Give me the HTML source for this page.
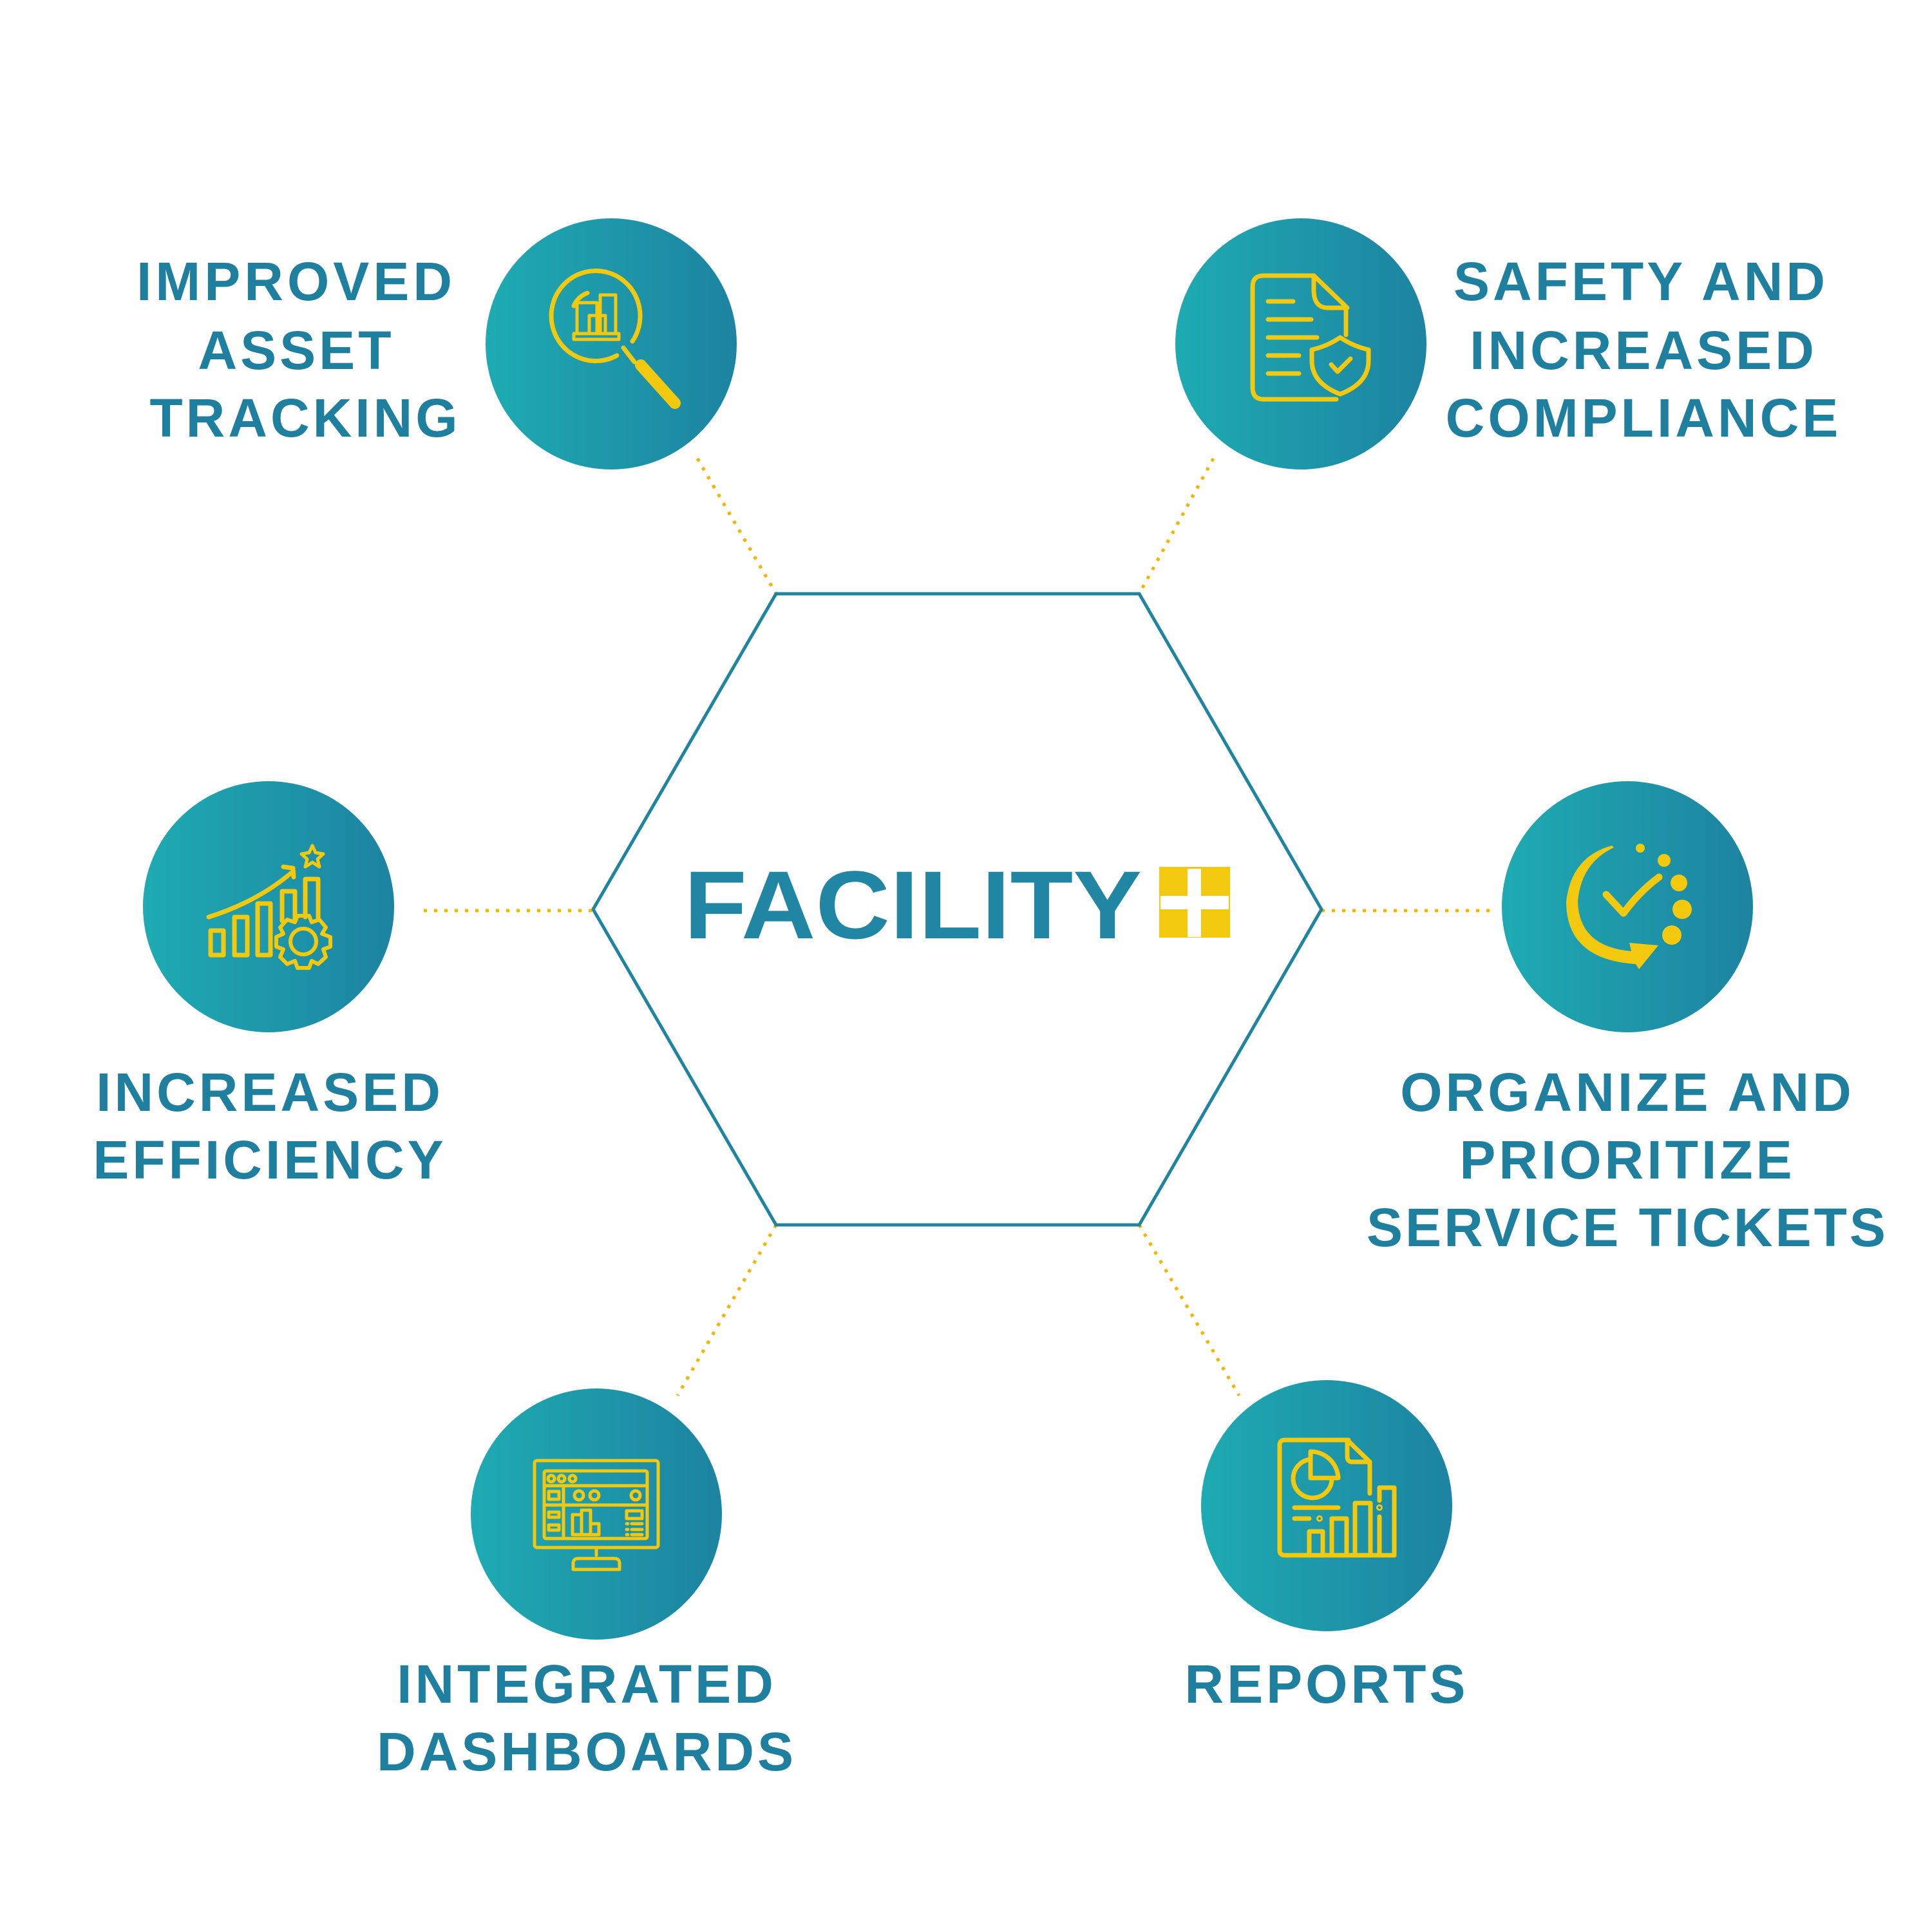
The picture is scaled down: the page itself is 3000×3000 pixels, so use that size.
<!DOCTYPE html>
<html><head><meta charset="utf-8"><style>
html,body{margin:0;padding:0;background:#fff;}
svg{display:block;}
text{font-family:"Liberation Sans",sans-serif;font-weight:bold;fill:#1f7f9e;}
</style></head><body>
<svg width="3000" height="3000" viewBox="0 0 3000 3000" xmlns="http://www.w3.org/2000/svg">
<defs>
<linearGradient id="g" x1="0" y1="0" x2="1" y2="0">
<stop offset="0" stop-color="#1eabb2"/><stop offset="1" stop-color="#1d83a1"/>
</linearGradient>
</defs>
<rect width="3000" height="3000" fill="#fff"/>
<g stroke="#f4b400" stroke-width="5" stroke-dasharray="5 11" fill="none">
<line x1="1083" y1="712" x2="1205" y2="922"/>
<line x1="1884" y1="712" x2="1769" y2="922"/>
<line x1="658" y1="1414" x2="921" y2="1414"/>
<line x1="2052" y1="1414" x2="2324" y2="1414"/>
<line x1="1205" y1="1902" x2="1052" y2="2167"/>
<line x1="1769" y1="1902" x2="1924" y2="2167"/>
</g>
<polygon points="1205,922 1769,922 2052,1412 1769,1902 1205,1902 921,1412" fill="none" stroke="#1f84a0" stroke-width="5"/>
<text x="1062" y="1457" font-size="150" textLength="711" lengthAdjust="spacingAndGlyphs" style="fill:#2186a3">FACILITY</text>
<rect x="1800" y="1346" width="110" height="110" fill="#f2c90f"/>
<rect x="1844" y="1349" width="21" height="106" fill="#fff"/>
<rect x="1802" y="1391" width="106" height="21" fill="#fff"/>
<g fill="url(#g)">
<circle cx="949" cy="534" r="195"/>
<circle cx="2020" cy="534" r="195"/>
<circle cx="417" cy="1408" r="195"/>
<circle cx="2527" cy="1408" r="195"/>
<circle cx="926" cy="2351" r="195"/>
<circle cx="2060" cy="2338" r="195"/>
</g>
<g font-size="84" text-anchor="middle" letter-spacing="5">
<text x="460" y="466" letter-spacing="6">IMPROVED</text>
<text x="460" y="573">ASSET</text>
<text x="474" y="678">TRACKING</text>
<text x="2548" y="466">SAFETY AND</text>
<text x="2552" y="573">INCREASED</text>
<text x="2552" y="678">COMPLIANCE</text>
<text x="419" y="1725">INCREASED</text>
<text x="419" y="1830">EFFICIENCY</text>
<text x="2527" y="1725">ORGANIZE AND</text>
<text x="2527" y="1830">PRIORITIZE</text>
<text x="2527" y="1935" letter-spacing="4">SERVICE TICKETS</text>
<text x="911" y="2644">INTEGRATED</text>
<text x="911" y="2749">DASHBOARDS</text>
<text x="2060" y="2644">REPORTS</text>
</g>
<g stroke="#f2c90f" fill="none" stroke-width="7" stroke-linecap="round" stroke-linejoin="round">
<path d="M982,530 A69,70 0 1 0 958,552" />
<path d="M891,475 A35,35 0 0 1 912,455"/>
<line x1="968" y1="540" x2="985" y2="562"/>
<line x1="995" y1="567" x2="1048" y2="626" stroke-width="18"/>
<g stroke-width="5">
<rect x="896" y="470" width="31" height="48"/>
<rect x="932" y="458" width="24" height="60"/>
<rect x="915" y="490" width="25" height="28"/>
<rect x="891" y="518" width="70" height="9"/>
</g>
<path d="M2040,428 H1962 Q1945,428 1945,445 V602 Q1945,620 1962,620 H2075"/>
<path d="M2040,428 V450 Q2040,478 2062,478 H2092 M2040,428 L2090,476 V520"/>
<line x1="1969" y1="468" x2="2008" y2="468"/>
<line x1="1969" y1="496" x2="2036" y2="496"/>
<line x1="1969" y1="524" x2="2045" y2="524"/>
<line x1="1969" y1="552" x2="2017" y2="552"/>
<line x1="1969" y1="580" x2="2017" y2="580"/>
<path d="M2081,524 Q2060,538 2037,543 V560 Q2037,595 2081,612 Q2125,595 2125,560 V543 Q2102,538 2081,524 Z"/>
<path d="M2067,566 L2077,577 L2097,557"/>
<rect x="327" y="1445" width="20" height="38"/>
<rect x="364" y="1424" width="20" height="59"/>
<rect x="400" y="1403" width="20" height="80"/>
<path d="M438,1430 V1384 H458 V1428"/>
<path d="M474,1424 V1365 H494 V1425"/>
<path d="M324,1424 Q400,1400 454,1354"/>
<path d="M440,1346 L455,1348 L456,1362"/>
<path d="M485,1313 L490,1324 L502,1326 L493,1334 L496,1346 L485,1339 L474,1346 L477,1334 L468,1326 L480,1324 Z" stroke-width="5"/>
<circle cx="471" cy="1462" r="20" stroke-width="6"/>
<path d="M462,1422 L480,1422 L484,1432 L496,1428 L506,1440 L500,1450 L513,1455 V1470 L502,1474 L506,1486 L494,1497 L484,1492 L480,1503 H462 L458,1492 L446,1497 L435,1486 L440,1474 L429,1470 V1455 L440,1450 L435,1440 L446,1428 L458,1432 Z" stroke-width="6"/>
<rect x="830" y="2268" width="192" height="135" rx="4" stroke-width="5"/>
<rect x="845" y="2284" width="160" height="105" rx="3" stroke-width="5"/>
<g stroke-width="5">
<line x1="845" y1="2307" x2="1005" y2="2307"/>
<line x1="845" y1="2337" x2="1005" y2="2337"/>
<line x1="875" y1="2307" x2="875" y2="2389"/>
<circle cx="856" cy="2296" r="5"/><circle cx="872" cy="2296" r="5"/><circle cx="889" cy="2296" r="5"/>
<circle cx="899" cy="2322" r="7"/><circle cx="923" cy="2322" r="7"/><circle cx="987" cy="2322" r="7"/>
<rect x="852" y="2316" width="16" height="12"/>
<rect x="852" y="2348" width="16" height="8"/><rect x="852" y="2368" width="16" height="8"/>
<path d="M889,2383 V2352 H903 V2383 M903,2383 V2345 H917 V2383 M917,2383 V2366 H930 V2383 H889"/>
<rect x="973" y="2346" width="24" height="12"/>
<line x1="973" y1="2366" x2="975" y2="2366"/><line x1="981" y1="2366" x2="997" y2="2366"/>
<line x1="973" y1="2375" x2="975" y2="2375"/><line x1="981" y1="2375" x2="997" y2="2375"/>
<line x1="973" y1="2383" x2="975" y2="2383"/><line x1="981" y1="2383" x2="997" y2="2383"/>
<line x1="926" y1="2404" x2="926" y2="2415"/>
<path d="M890,2437 V2428 Q890,2420 898,2420 H954 Q962,2420 962,2428 V2437 Z"/>
</g>
<path d="M2094,2236 H1995 Q1987,2236 1987,2244 V2407 Q1987,2415 1995,2415 H2165 V2310 H2142 V2330"/>
<path d="M2092,2236 V2262 Q2092,2270 2100,2270 H2127 M2092,2236 L2127,2270 V2319"/>
<path d="M2033,2413 V2378 H2054 V2413 M2068,2413 V2358 H2091 V2413 M2104,2413 V2334 H2128 V2413 M2142,2413 V2355"/>
<circle cx="2142" cy="2341" r="1.5"/>
<path d="M2035,2266 A30,30 0 1 0 2068,2297"/>
<path d="M2035,2254 V2295 H2078 A43,43 0 0 0 2035,2254 Z"/>
<line x1="2010" y1="2341" x2="2078" y2="2341"/>
<line x1="2010" y1="2358" x2="2033" y2="2358"/>
<circle cx="2049" cy="2358" r="1.5"/>
</g>
<g fill="#f2c90f">
<path d="M2503,1313 Q2440,1330 2432,1400 Q2432,1490 2540,1497 L2545,1505 L2575,1468 L2530,1464 L2533,1477 Q2452,1470 2450,1400 Q2455,1340 2506,1316 Z"/>
<circle cx="2547" cy="1317" r="7"/>
<circle cx="2584" cy="1336" r="10"/>
<circle cx="2607" cy="1371" r="13"/>
<circle cx="2612" cy="1412" r="15"/>
<circle cx="2596" cy="1452" r="15"/>
</g>
<path d="M2494,1389 L2521,1418 Q2545,1385 2576,1362" stroke="#f2c90f" stroke-width="11" fill="none" stroke-linecap="round" stroke-linejoin="round"/>
</svg>
</body></html>
